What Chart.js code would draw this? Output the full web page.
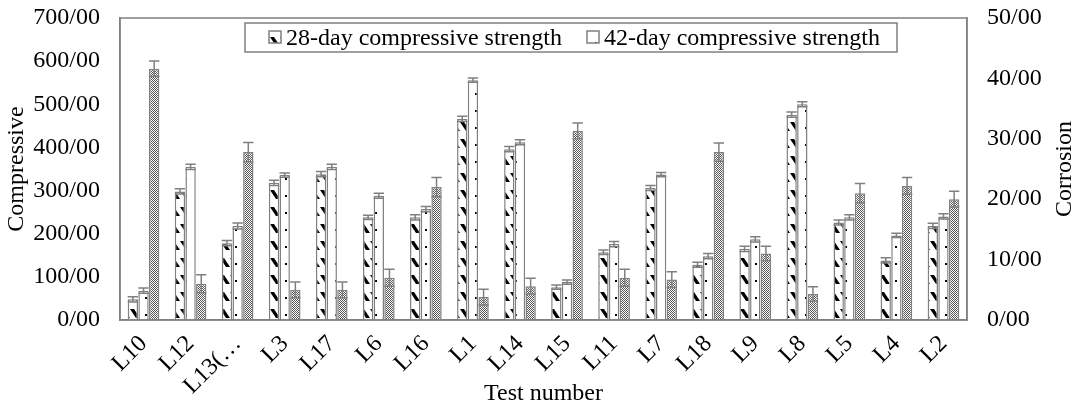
<!DOCTYPE html>
<html>
<head>
<meta charset="utf-8">
<script src="https://cdn.jsdelivr.net/npm/chart.js@4"></script>
<style>
  body { margin: 0; background: #fff; }
  canvas { display: block; }
</style>
</head>
<body>
<canvas id="myChart" width="1078" height="408"></canvas>
<script>
var labels = ['L10', 'L12', 'L13(…', 'L3', 'L17', 'L6', 'L16', 'L1', 'L14', 'L15', 'L11', 'L7', 'L18', 'L9', 'L8', 'L5', 'L4', 'L2'];
var day28 = [48, 298, 178, 318, 338, 238, 238, 466, 396, 76, 157, 306, 128, 165, 476, 226, 138, 218];
var day42 = [68, 355, 218, 336, 355, 288, 257, 556, 412, 88, 176, 337, 148, 187, 500, 238, 196, 240];
var corrosion = [41.6, 6, 27.8, 5, 5, 7, 22, 3.8, 5.6, 31.3, 7, 6.7, 27.8, 11, 4.3, 21, 22.2, 20];
var err28 = [6, 6, 6, 6, 6, 5, 6, 6, 6, 5, 5, 6, 6, 6, 6, 6, 6, 6];
var err42 = [6, 6, 7, 5, 6, 6, 6, 5, 6, 5, 6, 5, 6, 6, 6, 6, 5, 6];
var errCorr = [1.3, 1.5, 1.6, 1.3, 1.3, 1.4, 1.6, 1.3, 1.3, 1.3, 1.4, 1.3, 1.5, 1.2, 1.2, 1.6, 1.4, 1.3];
var leftTicks = [0, 100, 200, 300, 400, 500, 600, 700];
var rightTicks = [0, 10, 20, 30, 40, 50];

var gray = '#808080';
var font = 'Liberation Serif';
var fsize = 24;

function makePattern(w, h, draw) {
    var c = document.createElement('canvas');
    c.width = w; c.height = h;
    var g = c.getContext('2d');
    g.fillStyle = '#fff';
    g.fillRect(0, 0, w, h);
    draw(g);
    return document.getElementById('myChart').getContext('2d').createPattern(c, 'repeat');
}

var stripes = makePattern(10, 17, function (g) {
    g.fillStyle = '#000';
    g.beginPath();
    g.moveTo(0, 3); g.lineTo(4, 3); g.lineTo(10, 12); g.lineTo(6, 12);
    g.closePath();
    g.fill();
});
var dots = makePattern(10, 17, function (g) {
    g.fillStyle = '#000';
    g.fillRect(5, 8, 2, 2);
});
var checker = makePattern(2, 2, function (g) {
    g.fillStyle = '#555';
    g.fillRect(0, 0, 1, 1);
    g.fillRect(1, 1, 1, 1);
});

var errorBars = {
    id: 'errorBars',
    afterDatasetsDraw: function (chart) {
        var ctx = chart.ctx;
        var errs = [err28, err42, errCorr];
        ctx.save();
        ctx.strokeStyle = gray;
        ctx.lineWidth = 1.5;
        chart.data.datasets.forEach(function (ds, i) {
            var meta = chart.getDatasetMeta(i);
            var scale = chart.scales[ds.yAxisID];
            meta.data.forEach(function (bar, j) {
                var v = ds.data[j], e = errs[i][j];
                var yt = scale.getPixelForValue(v + e);
                var yb = scale.getPixelForValue(v - e);
                var hw = bar.width / 2;
                ctx.beginPath();
                ctx.moveTo(bar.x, yt); ctx.lineTo(bar.x, yb);
                ctx.moveTo(bar.x - hw, yt); ctx.lineTo(bar.x + hw, yt);
                ctx.moveTo(bar.x - hw, yb); ctx.lineTo(bar.x + hw, yb);
                ctx.stroke();
            });
        });
        ctx.restore();
    }
};

var frame = {
    id: 'frame',
    afterDraw: function (chart) {
        var ctx = chart.ctx, a = chart.chartArea;
        ctx.save();
        ctx.strokeStyle = gray;
        ctx.lineWidth = 1.5;
        ctx.strokeRect(a.left, a.top, a.right - a.left, a.bottom - a.top);

        // legend
        var bx = a.left + 125, by = a.top + 5, bw = 652, bh = 29;
        ctx.fillStyle = '#fff';
        ctx.fillRect(bx, by, bw, bh);
        ctx.strokeRect(bx, by, bw, bh);
        ctx.font = fsize + 'px "' + font + '"';
        ctx.textBaseline = 'middle';
        var items = [['28-day compressive strength', stripes, bx + 24], ['42-day compressive strength', dots, bx + 342]];
        items.forEach(function (it) {
            ctx.fillStyle = it[1];
            ctx.fillRect(it[2], by + 8, 12, 12);
            ctx.strokeRect(it[2], by + 8, 12, 12);
            ctx.fillStyle = '#000';
            ctx.fillText(it[0], it[2] + 17, by + bh / 2 + 1);
        });

        // right axis title
        ctx.translate(1065, (a.top + a.bottom) / 2);
        ctx.rotate(-Math.PI / 2);
        ctx.textAlign = 'center';
        ctx.fillText('Corrosion', 0, 0);
        ctx.restore();
    }
};

var hiddenTicks = { display: true, drawOnChartArea: false, drawTicks: true, tickLength: 20, color: 'rgba(0,0,0,0)' };

var myChart = new Chart(document.getElementById('myChart'), {
    type: 'bar',
    data: {
        labels: labels,
        datasets: [{
            label: '28-day compressive strength',
            data: day28,
            backgroundColor: stripes,
            borderColor: gray,
            borderWidth: 1.5,
            yAxisID: 'y'
        }, {
            label: '42-day compressive strength',
            data: day42,
            backgroundColor: dots,
            borderColor: gray,
            borderWidth: 1.5,
            yAxisID: 'y'
        }, {
            label: 'Corrosion',
            data: corrosion,
            backgroundColor: checker,
            borderColor: gray,
            borderWidth: 1.5,
            yAxisID: 'y2'
        }]
    },
    options: {
        responsive: false,
        devicePixelRatio: 1,
        animation: false,
        categoryPercentage: 0.68,
        barPercentage: 0.97,
        layout: { padding: { top: 18, left: 0, right: 0, bottom: 0 } },
        plugins: {
            legend: { display: false },
            tooltip: { enabled: false }
        },
        scales: {
            x: {
                grid: { display: false },
                border: { color: gray, width: 1.5 },
                ticks: {
                    color: '#000',
                    font: { family: font, size: fsize },
                    minRotation: 45, maxRotation: 45,
                    autoSkip: false,
                    padding: 2
                },
                title: {
                    display: true, text: 'Test number', color: '#000',
                    font: { family: font, size: fsize },
                    padding: { top: 0, bottom: 0 }
                },
                afterFit: function (s) { s.height = 88; }
            },
            y: {
                position: 'left',
                min: 0, max: 700,
                afterBuildTicks: function (s) { s.ticks = leftTicks.map(function (v) { return { value: v }; }); },
                grid: hiddenTicks,
                border: { color: gray, width: 1.5 },
                ticks: {
                    color: '#000',
                    font: { family: font, size: fsize },
                    padding: 0,
                    callback: function (v) { return v + '/00'; }
                },
                title: {
                    display: true, text: 'Compressive', color: '#000',
                    font: { family: font, size: fsize },
                    padding: { top: 2, bottom: 0 }
                },
                afterFit: function (s) { s.width = 120; }
            },
            y2: {
                position: 'right',
                min: 0, max: 50,
                afterBuildTicks: function (s) { s.ticks = rightTicks.map(function (v) { return { value: v }; }); },
                grid: hiddenTicks,
                border: { color: gray, width: 1.5 },
                ticks: {
                    color: '#000',
                    font: { family: font, size: fsize },
                    padding: 0,
                    callback: function (v) { return v + '/00'; }
                },
                afterFit: function (s) { s.width = 111; }
            }
        }
    },
    plugins: [errorBars, frame]
});
</script>
</body>
</html>
